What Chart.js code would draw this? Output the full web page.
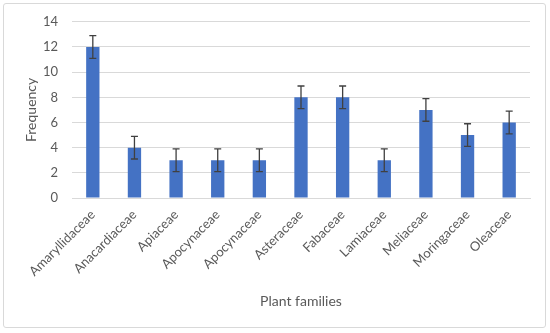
<!DOCTYPE html>
<html><head><meta charset="utf-8">
<script src="https://cdn.jsdelivr.net/npm/chart.js@4.4.1/dist/chart.umd.min.js"></script>
<style>
html,body{margin:0;padding:0;background:#fff;}
#wrap{position:relative;width:550px;height:333px;}
#frame{position:absolute;left:3px;top:3px;width:541px;height:323px;border:1px solid #d9d9d9;border-radius:3px;pointer-events:none;}
</style></head>
<body><div id="wrap"><canvas id="c" width="550" height="333"></canvas><div id="frame"></div></div>
<script>
const categories = ["Amaryllidaceae","Anacardiaceae","Apiaceae","Apocynaceae","Apocynaceae","Asteraceae","Fabaceae","Lamiaceae","Meliaceae","Moringaceae","Oleaceae"];
const frequency = [12,4,3,3,3,8,8,3,7,5,6];
const errors = [0.9,0.9,0.9,0.9,0.9,0.9,0.9,0.9,0.9,0.9,0.9];
const yTicks = [0,2,4,6,8,10,12,14];

const errorBars = {
  id:'errorBars',
  afterDatasetsDraw(chart){
    const ctx = chart.ctx, ys = chart.scales.y;
    const meta = chart.getDatasetMeta(0);
    ctx.save();
    ctx.strokeStyle = '#404040';
    ctx.lineWidth = 1.3;
    meta.data.forEach((bar,i)=>{
      const v = frequency[i], e = errors[i];
      const yt = ys.getPixelForValue(v+e), yb = ys.getPixelForValue(v-e);
      const x = bar.x, cap = 3.5;
      ctx.beginPath();
      ctx.moveTo(x,yt); ctx.lineTo(x,yb);
      ctx.moveTo(x-cap,yt); ctx.lineTo(x+cap,yt);
      ctx.moveTo(x-cap,yb); ctx.lineTo(x+cap,yb);
      ctx.stroke();
    });
    ctx.restore();
  }
};

Chart.defaults.font.family = 'Lato, "Liberation Sans", sans-serif';
Chart.defaults.color = '#595959';

new Chart(document.getElementById('c'),{
  type:'bar',
  data:{labels:categories,datasets:[{data:frequency,backgroundColor:'#4472C4',barPercentage:0.32,categoryPercentage:1}]},
  options:{
    responsive:false,animation:false,
    layout:{padding:{left:23,right:20,top:13,bottom:14}},
    plugins:{legend:{display:false},tooltip:{enabled:false}},
    scales:{
      x:{
        grid:{display:false,drawTicks:false},
        border:{display:true,color:'#d9d9d9',width:1},
        ticks:{minRotation:45,maxRotation:45,autoSkip:false,font:{size:13},padding:9},
        title:{display:true,text:'Plant families',font:{size:14},padding:{top:4,bottom:9}},
        afterFit(s){ s.height = 121; }
      },
      y:{
        min:0,max:14,
        afterBuildTicks(s){ s.ticks = yTicks.map(v=>({value:v})); },
        grid:{color:'#d9d9d9',drawTicks:false},
        border:{display:false},
        ticks:{font:{size:13},padding:14},
        title:{display:true,text:'Frequency',font:{size:14},padding:{top:0,bottom:4}},
        afterFit(s){ s.width = 49; }
      }
    }
  },
  plugins:[errorBars]
});
</script></body></html>
